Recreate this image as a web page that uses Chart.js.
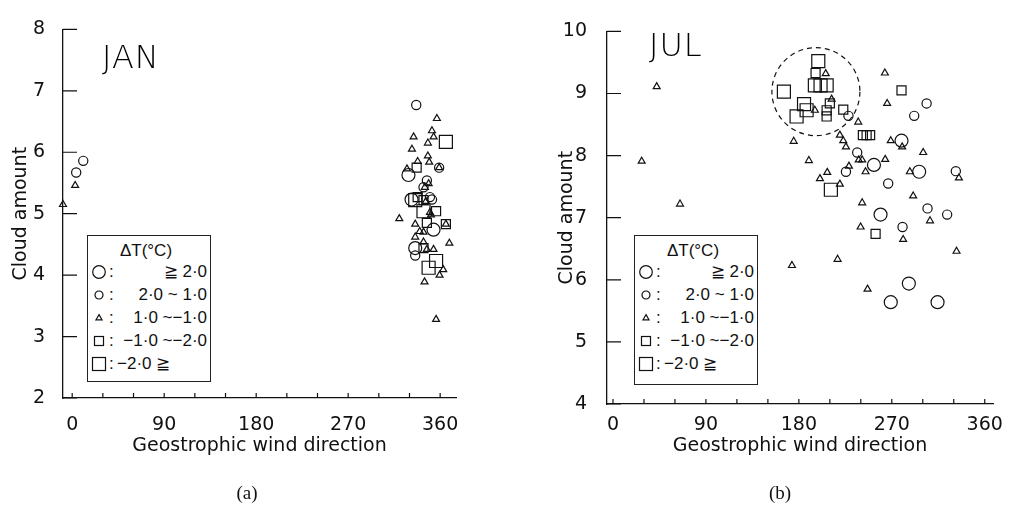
<!DOCTYPE html>
<html>
<head>
<meta charset="utf-8">
<script src="https://cdn.jsdelivr.net/npm/chart.js@4.4.0/dist/chart.umd.min.js"></script>
<style>
  html, body { margin: 0; padding: 0; background: #fff; }
  body { width: 1018px; height: 509px; position: relative; overflow: hidden;
         font-family: 'DejaVu Sans', sans-serif; color: #111; }
  canvas { position: absolute; top: 0; }
  #chartA { left: 0; }
  #chartB { left: 509px; }
  .month { position: absolute; font-size: 32px; line-height: 32px; font-weight: 200; letter-spacing: 1px; color: #000; }
  .cap { position: absolute; top: 482px; width: 40px; text-align: center;
         font-family: 'Liberation Serif', 'DejaVu Serif', serif; font-size: 19px; }
  .legend { position: absolute; top: 235px; width: 124px; height: 147px; box-sizing: border-box;
            border: 1.3px solid #222; background: #fff;
            font-family: 'Liberation Sans', sans-serif; font-size: 17px; }
  .legend .lt { height: 24px; line-height: 30px; text-align: center; padding-right: 6px; }
  .legend .row { display: flex; align-items: center; height: 23px; }
  .legend svg { flex: none; margin-left: 1px; }
  .legend .colon { flex: none; width: 7px; }
  .legend .lab { flex: 1; text-align: right; padding-right: 3px; white-space: pre; }
  .legend .lab.left { text-align: left; padding-left: 1px; }
</style>
</head>
<body>
<canvas id="chartA" width="509" height="509"></canvas>
<canvas id="chartB" width="509" height="509"></canvas>
<div class="month" style="left:102px; top:41px;">JAN</div>
<div class="month" style="left:649px; top:29px;">JUL</div>
<div class="legend" id="legendA" style="left:87px;"></div>
<div class="legend" id="legendB" style="left:634px; height:150px;"></div>
<div class="cap" style="left:227px;">(a)</div>
<div class="cap" style="left:760px;">(b)</div>
<script>
// ΔT classes, same order everywhere
const dtLabels = ['≧ 2·0', '2·0 ~ 1·0', '1·0 ~−1·0', '−1·0 ~−2·0', '−2·0 ≧'];
const dirTicks = [0, 30, 60, 90, 120, 150, 180, 210, 240, 270, 300, 330, 360];
const janCloudTicks = [2, 3, 4, 5, 6, 7, 8];
const julCloudTicks = [4, 5, 6, 7, 8, 9, 10];

// [wind direction, cloud amount]
const janHot = [[329, 5.63], [353.5, 4.74], [332, 5.23], [335.6, 4.44]];
const janWarm = [[10.8, 5.86], [3.9, 5.67], [336.6, 6.77], [359, 5.75], [347, 5.54], [343.7, 5.43],
  [352, 5.23], [335.6, 4.32], [350, 5.27]];
const janMild = [[2.9, 5.46], [-9, 5.15], [356.8, 6.55], [352, 6.35], [353.6, 6.25], [334, 6.25],
  [348, 6.15], [332.4, 6.05], [348, 5.94], [338, 5.85], [349.3, 5.84], [359, 5.75], [327.5, 5.73],
  [348.7, 5.49], [345, 5.43], [346, 5.2], [350, 5.02], [351, 4.98], [320, 4.92], [335.6, 4.83],
  [365.6, 4.83], [340, 4.71], [343.7, 4.70], [335.6, 4.62], [369, 4.52], [343.7, 4.54], [347, 4.42],
  [353.5, 4.42], [363, 4.09], [359.4, 4.0], [344.7, 3.89], [356, 3.28]];
const janCool = [[337, 5.75], [343.7, 5.22], [347, 4.85], [365.6, 4.83], [343.7, 4.44], [356, 5.04],
  [338, 5.27]];
const janCold = [[365.6, 6.17], [335.6, 5.22], [343.7, 5.04], [356, 4.23], [348.7, 4.12]];

const julHot = [[279.4, 8.24], [252.7, 7.85], [296.5, 7.74], [259.1, 7.05], [286.5, 5.94],
  [269, 5.64], [314.3, 5.64]];
const julWarm = [[228, 8.64], [236.5, 8.05], [225.6, 7.74], [332, 7.75], [266.5, 7.55], [304.6, 7.15],
  [323.6, 7.05], [280.4, 6.85], [303.7, 8.84], [291.7, 8.64]];
const julMild = [[42.3, 9.11], [27.8, 7.91], [64.9, 7.22], [206, 9.32], [211.7, 8.91], [195.5, 8.73],
  [237.5, 8.54], [263.3, 9.33], [265.5, 8.84], [175, 8.23], [219.7, 8.33], [223, 8.24], [225.6, 8.14],
  [269, 8.24], [280, 8.14], [300.4, 8.05], [189.7, 7.92], [238, 7.93], [241.3, 7.93], [263.6, 7.94],
  [228.5, 7.83], [207.5, 7.73], [244.6, 7.74], [287.5, 7.74], [335, 7.64], [200.4, 7.63],
  [219.7, 7.54], [290.7, 7.35], [241.3, 7.24], [307, 6.95], [239.8, 6.85], [281, 6.65],
  [332.7, 6.46], [217.5, 6.33], [173.3, 6.23], [246.5, 5.85]];
const julCool = [[196.2, 9.33], [206.9, 8.73], [206.9, 8.63], [210, 8.84], [223, 8.74], [242, 8.33],
  [245.6, 8.33], [249, 8.33], [279.4, 9.05], [254.3, 6.74]];
const julCold = [[198.8, 9.52], [195.5, 9.13], [201, 9.13], [206.9, 9.13], [165.5, 9.03],
  [185, 8.83], [187.5, 8.73], [177.8, 8.63], [211, 7.45]];

// centre of the dashed ring in the JUL panel
const julRing = [196.5, 9.03];

const ink = '#111';
const symbols = [
  { style: 'circle', r: 6.5 },
  { style: 'circle', r: 4.6 },
  { style: 'triangle', r: 4 },
  { style: 'rect', r: 6.4 },
  { style: 'rect', r: 9.2 }
];
const tickFont = { family: "'DejaVu Sans', sans-serif", size: 19 };
const titleFont = { family: "'DejaVu Sans', sans-serif", size: 19 };

// short tick marks drawn inside the axes
const inwardTicks = {
  id: 'inwardTicks',
  afterDraw(chart) {
    const { ctx, chartArea, scales: { x, y } } = chart;
    ctx.save();
    ctx.strokeStyle = ink;
    ctx.lineWidth = 1.2;
    ctx.beginPath();
    x.ticks.forEach(t => {
      const px = x.getPixelForValue(t.value);
      ctx.moveTo(px, chartArea.bottom);
      ctx.lineTo(px, chartArea.bottom - 5);
    });
    y.ticks.forEach(t => {
      const py = y.getPixelForValue(t.value);
      ctx.moveTo(chartArea.left, py);
      ctx.lineTo(chartArea.left + 14, py);
    });
    ctx.stroke();
    ctx.restore();
  }
};

const ring = {
  id: 'ring',
  afterDatasetsDraw(chart, args, opts) {
    if (!opts.at) return;
    const { ctx, scales: { x, y } } = chart;
    ctx.save();
    ctx.setLineDash([5, 4]);
    ctx.lineWidth = 1.2;
    ctx.strokeStyle = ink;
    ctx.beginPath();
    ctx.arc(x.getPixelForValue(opts.at[0]), y.getPixelForValue(opts.at[1]), opts.radius, 0, Math.PI * 2);
    ctx.stroke();
    ctx.restore();
  }
};

function makeChart(id, cfg) {
  return new Chart(document.getElementById(id), {
    type: 'scatter',
    data: {
      datasets: cfg.sets.map((pts, i) => ({
        label: dtLabels[i],
        data: pts.map(p => ({ x: p[0], y: p[1] })),
        pointStyle: symbols[i].style,
        pointRadius: symbols[i].r,
        pointHoverRadius: symbols[i].r,
        pointBorderWidth: 1.2,
        borderColor: ink,
        backgroundColor: 'rgba(0,0,0,0)',
        clip: false
      }))
    },
    options: {
      responsive: false,
      animation: false,
      events: [],
      layout: { padding: cfg.pad },
      plugins: {
        legend: { display: false },
        tooltip: { enabled: false },
        ring: cfg.ring ? { at: cfg.ring, radius: 44 } : {}
      },
      scales: {
        x: {
          type: 'linear',
          min: cfg.xMin,
          max: cfg.xMax,
          afterBuildTicks: s => { s.ticks = dirTicks.map(v => ({ value: v })); },
          afterFit: s => { s.height = cfg.xH; },
          ticks: {
            autoSkip: false, maxRotation: 0, padding: cfg.xPad, color: ink, font: tickFont,
            callback: v => (v % 90 === 0 ? String(v) : '')
          },
          grid: { drawOnChartArea: false, drawTicks: false },
          border: { color: ink, width: 1.3 },
          title: { display: true, text: 'Geostrophic wind direction', color: ink, font: titleFont,
                   padding: { top: 0, bottom: 2 } }
        },
        y: {
          type: 'linear',
          min: cfg.yTicks[0],
          max: cfg.yTicks[cfg.yTicks.length - 1],
          afterBuildTicks: s => { s.ticks = cfg.yTicks.map(v => ({ value: v })); },
          afterFit: s => { s.width = cfg.yW; },
          ticks: { padding: cfg.yPad, color: ink, font: tickFont },
          grid: { drawOnChartArea: false, drawTicks: false },
          border: { color: ink, width: 1.3 },
          title: { display: true, text: 'Cloud amount', color: ink, font: titleFont,
                   padding: { top: cfg.yTitlePad, bottom: 0 } }
        }
      }
    },
    plugins: [inwardTicks, ring]
  });
}

function buildLegend(el) {
  const shapes = [
    '<circle cx="0" cy="0" r="6.3"/>',
    '<circle cx="0" cy="0" r="4"/>',
    '<polygon points="0,-3.4 3,1.8 -3,1.8"/>',
    '<rect x="-4.5" y="-4.5" width="9" height="9"/>',
    '<rect x="-6.5" y="-6.5" width="13" height="13"/>'
  ];
  const head = document.createElement('div');
  head.className = 'lt';
  head.textContent = 'ΔT(°C)';
  el.appendChild(head);
  dtLabels.forEach((txt, i) => {
    const row = document.createElement('div');
    row.className = 'row';
    row.innerHTML = '<svg width="20" height="20" viewBox="-10 -10 20 20" fill="none" stroke="' + ink +
      '" stroke-width="1.2">' + shapes[i] + '</svg><span class="colon">:</span>' +
      '<span class="lab' + (i === 4 ? ' left' : '') + '">' + txt + '</span>';
    el.appendChild(row);
  });
}

makeChart('chartA', {
  sets: [janHot, janWarm, janMild, janCool, janCold],
  xMin: -9, xMax: 375.5, yTicks: janCloudTicks,
  pad: { left: 0, top: 16, right: 53, bottom: 50 },
  xH: 61, yW: 63, xPad: 16, yPad: 18, yTitlePad: 10
});
makeChart('chartB', {
  sets: [julHot, julWarm, julMild, julCool, julCold],
  xMin: -5.8, xMax: 368, yTicks: julCloudTicks,
  pad: { left: 0, top: 14, right: 25, bottom: 50 },
  xH: 55, yW: 98, xPad: 10, yPad: 20, yTitlePad: 47,
  ring: julRing
});
buildLegend(document.getElementById('legendA'));
buildLegend(document.getElementById('legendB'));
</script>
</body>
</html>
